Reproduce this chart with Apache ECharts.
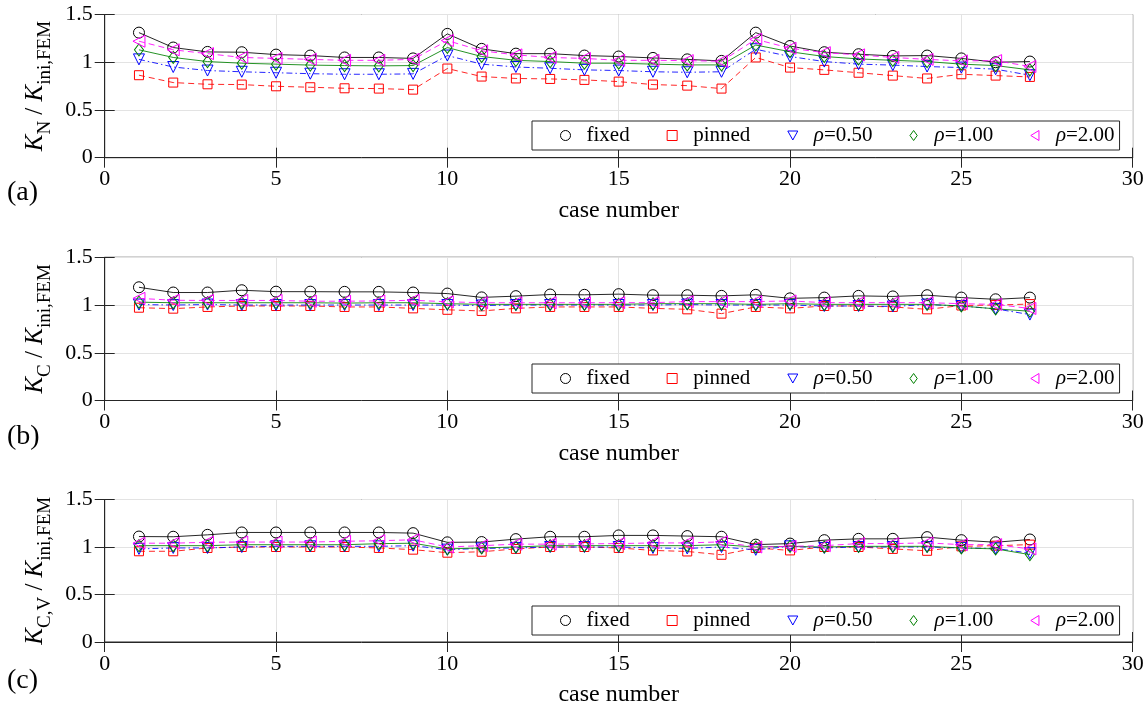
<!DOCTYPE html>
<html>
<head>
<meta charset="utf-8">
<script src="https://cdn.jsdelivr.net/npm/echarts@6/dist/echarts.min.js"></script>
<style>
html,body{margin:0;padding:0;background:#fff;}
#chart{width:1148px;height:708px;}
</style>
</head>
<body>
<div id="chart"></div>
<script>
// ---------------- DATA ----------------
const cases = [1,2,3,4,5,6,7,8,9,10,11,12,13,14,15,16,17,18,19,20,21,22,23,24,25,26,27];
const xTicks = [0,5,10,15,20,25,30];
const yTicks = [0,0.5,1,1.5];
const seriesNames = ['fixed','pinned','ρ=0.50','ρ=1.00','ρ=2.00'];
const panelTags = ['(a)','(b)','(c)'];

// panel (a): K_N / K_ini,FEM
const aFixed  = [1.31,1.154,1.108,1.105,1.08,1.07,1.05,1.05,1.04,1.297,1.14,1.09,1.09,1.07,1.06,1.045,1.03,1.014,1.31,1.17,1.105,1.084,1.066,1.07,1.04,1.0,1.007];
const aPinned = [0.864,0.787,0.769,0.766,0.748,0.738,0.727,0.724,0.713,0.934,0.85,0.83,0.825,0.815,0.797,0.766,0.755,0.724,1.05,0.944,0.92,0.89,0.86,0.83,0.874,0.86,0.846];
const aRho05  = [1.03,0.95,0.913,0.90,0.89,0.88,0.874,0.874,0.878,1.07,0.98,0.95,0.937,0.92,0.913,0.90,0.895,0.90,1.136,1.06,1.007,0.98,0.97,0.955,0.944,0.927,0.864];
const aRho10  = [1.13,1.05,1.007,0.99,0.98,0.97,0.965,0.962,0.965,1.154,1.06,1.02,1.007,0.99,0.99,0.98,0.972,0.972,1.18,1.11,1.06,1.035,1.02,1.007,0.98,0.965,0.92];
const aRho20  = [1.22,1.13,1.09,1.05,1.04,1.03,1.02,1.02,1.03,1.227,1.12,1.077,1.05,1.04,1.02,1.02,1.017,1.01,1.24,1.147,1.10,1.077,1.05,1.03,1.014,1.017,0.955];

// panel (b): K_C / K_ini,FEM
const bFixed  = [1.186,1.131,1.131,1.155,1.14,1.14,1.138,1.138,1.131,1.12,1.08,1.093,1.11,1.107,1.114,1.103,1.103,1.096,1.107,1.07,1.078,1.096,1.09,1.103,1.078,1.06,1.078];
const bPinned = [0.972,0.962,0.98,0.99,0.99,0.99,0.98,0.98,0.965,0.95,0.938,0.965,0.98,0.98,0.98,0.965,0.955,0.91,0.98,0.965,0.99,0.99,0.98,0.955,0.995,1.0,1.01];
const bRho05  = [1.005,1.0,1.005,1.0,1.0,1.0,1.0,1.0,1.0,1.0,0.995,1.0,1.0,1.0,1.0,1.0,1.005,1.0,1.0,1.0,0.99,0.99,0.985,1.005,0.99,0.96,0.9];
const bRho10  = [1.03,1.024,1.024,1.024,1.024,1.024,1.02,1.024,1.024,1.014,1.007,1.007,1.007,1.007,1.007,1.014,1.014,1.014,1.007,1.014,1.007,1.007,1.007,1.007,0.99,0.96,0.935];
const bRho20  = [1.07,1.05,1.048,1.048,1.048,1.04,1.04,1.043,1.05,1.034,1.024,1.024,1.024,1.024,1.025,1.025,1.036,1.036,1.036,1.043,1.025,1.025,1.025,1.025,1.014,1.007,0.964];

// panel (c): K_C,V / K_ini,FEM
const cFixed  = [1.11,1.108,1.128,1.153,1.153,1.153,1.153,1.153,1.146,1.049,1.052,1.083,1.108,1.108,1.122,1.122,1.115,1.108,1.025,1.036,1.072,1.086,1.086,1.104,1.072,1.05,1.079];
const cPinned = [0.955,0.955,0.99,1.0,1.0,1.0,1.0,0.99,0.972,0.94,0.95,0.98,1.0,1.0,0.99,0.964,0.953,0.918,0.99,0.964,1.0,1.0,0.98,0.96,1.007,1.014,1.025];
const cRho05  = [0.98,0.99,0.99,1.0,1.007,1.007,1.007,1.007,1.014,0.972,0.985,0.99,1.0,1.0,1.0,0.99,0.985,1.0,0.97,1.007,0.99,1.0,1.0,1.0,0.99,0.985,0.935];
const cRho10  = [1.014,1.014,1.014,1.024,1.024,1.024,1.024,1.035,1.04,0.98,0.99,1.0,1.014,1.014,1.014,1.014,1.014,1.024,1.0,1.007,1.0,1.007,1.007,1.007,0.99,0.98,0.92];
const cRho20  = [1.04,1.04,1.05,1.052,1.052,1.052,1.06,1.066,1.076,1.0,1.014,1.03,1.03,1.033,1.036,1.043,1.043,1.054,1.0,1.007,1.014,1.036,1.036,1.043,1.025,1.025,0.98];

// ---------------- STYLE / LAYOUT ----------------
const FONT = "'Liberation Serif','Times New Roman',serif";
const INK = '#262626';
const panelData = [
  [aFixed,aPinned,aRho05,aRho10,aRho20],
  [bFixed,bPinned,bRho05,bRho10,bRho20],
  [cFixed,cPinned,cRho05,cRho10,cRho20]
];
const yNames = [
  '{k|K}{s|N}{t| / }{k|K}{s|ini,FEM}',
  '{k|K}{s|C}{t| / }{k|K}{s|ini,FEM}',
  '{k|K}{s|C,V}{t| / }{k|K}{s|ini,FEM}'
];
const gridTops = [14.5, 257.3, 499.5];
const gridH = 143.2;
const gridLeft = 104.7, gridW = 1028;
const legendTops = [121, 364, 606];
const tagY = [192, 436, 680];

const styles = [
  {color:'#000000', symbol:'circle', size:11, rotate:0, dash:'solid', icon:'circle'},
  {color:'#ff0000', symbol:'rect', size:9, rotate:0, dash:[6,4], icon:'path://M0,0L9,0L9,9L0,9Z'},
  {color:'#0000ff', symbol:'triangle', size:11, rotate:180, dash:[6,3,1.5,3], icon:'path://M0,0L10,0L5,9Z'},
  {color:'#008000', symbol:'diamond', size:[9,12], rotate:0, dash:'solid', icon:'path://M4,0L8,5.5L4,11L0,5.5Z'},
  {color:'#ff00ff', symbol:'triangle', size:12, rotate:90, dash:[6,4], icon:'path://M9,0L9,11L0,5.5Z'}
];

const grids = [], xAxes = [], yAxes = [], series = [], legends = [], graphics = [];
const richName = {
  k:{fontFamily:FONT, fontStyle:'italic', fontSize:25, lineHeight:31, verticalAlign:'top', color:'#000'},
  t:{fontFamily:FONT, fontSize:25, lineHeight:31, verticalAlign:'top', color:'#000'},
  s:{fontFamily:FONT, fontSize:19, lineHeight:19, verticalAlign:'bottom', color:'#000'}
};

for (let p = 0; p < 3; p++) {
  grids.push({left:gridLeft, top:gridTops[p], width:gridW, height:gridH, show:true,
    borderColor:INK, borderWidth:1, backgroundColor:'#fff'});
  const axisFont = {fontFamily:FONT, fontSize:22, color:'#000'};
  xAxes.push({type:'value', gridIndex:p, min:xTicks[0], max:xTicks[xTicks.length-1], interval:5,
    position:'bottom',
    axisLine:{show:true, lineStyle:{color:INK, width:1}},
    axisTick:{show:true, inside:true, length:10, lineStyle:{color:INK}},
    axisLabel:Object.assign({margin:11}, axisFont),
    splitLine:{show:true, lineStyle:{color:'#e3e3e3', width:1}},
    name:'case number', nameLocation:'middle', nameGap:41,
    nameTextStyle:{fontFamily:FONT, fontSize:24, color:'#000'}
  });
  xAxes.push({type:'value', gridIndex:p, min:xTicks[0], max:xTicks[xTicks.length-1], interval:5,
    position:'top',
    axisLine:{show:false}, axisLabel:{show:false}, splitLine:{show:false},
    axisTick:{show:true, inside:true, length:10, lineStyle:{color:INK}}
  });
  yAxes.push({type:'value', gridIndex:p, min:yTicks[0], max:yTicks[yTicks.length-1], interval:0.5,
    position:'left',
    axisLine:{show:true, lineStyle:{color:INK, width:1}},
    axisTick:{show:true, inside:true, length:10, lineStyle:{color:INK}},
    axisLabel:Object.assign({margin:12}, axisFont),
    splitLine:{show:true, lineStyle:{color:'#e3e3e3', width:1}},
    name:yNames[p], nameLocation:'middle', nameRotate:90, nameGap:48,
    nameTextStyle:{rich:richName}
  });
  yAxes.push({type:'value', gridIndex:p, min:yTicks[0], max:yTicks[yTicks.length-1], interval:0.5,
    position:'right',
    axisLine:{show:false}, axisLabel:{show:false}, splitLine:{show:false},
    axisTick:{show:true, inside:true, length:10, lineStyle:{color:INK}}
  });

  for (let s = 0; s < 5; s++) {
    const st = styles[s];
    series.push({
      type:'line', name:seriesNames[s], xAxisIndex:2*p, yAxisIndex:2*p,
      data:cases.map((c,i)=>[c, panelData[p][s][i]]),
      symbol:st.symbol, symbolSize:st.size, symbolRotate:st.rotate, showSymbol:true,
      lineStyle:{color:st.color, width:1, type:st.dash, opacity:0.85},
      itemStyle:{color:'rgba(255,255,255,0)', borderColor:st.color, borderWidth:1},
      emphasis:{disabled:true}, animation:false, z:2+s
    });
  }

  legends.push({
    left:532, top:legendTops[p], orient:'horizontal',
    padding:[3,5,3,28], itemGap:37, itemWidth:10, itemHeight:10,
    backgroundColor:'#fff', borderColor:INK, borderWidth:1,
    selectedMode:false,
    textStyle:{fontFamily:FONT, fontSize:21, color:'#000', lineHeight:23,
      rich:{
        n:{fontFamily:FONT, fontSize:21, color:'#000', padding:[0,0,0,11]},
        i:{fontFamily:FONT, fontStyle:'italic', fontSize:21, color:'#000', padding:[0,0,0,11]},
        r:{fontFamily:FONT, fontSize:21, color:'#000'}}},
    formatter:function(name){
      if (name.charAt(0) === 'ρ') return '{i|ρ}{r|' + name.slice(1) + '}';
      return '{n|' + name + '}';
    },
    data:seriesNames.map((n,s)=>({name:n, icon:styles[s].icon,
      itemStyle:{color:'rgba(255,255,255,0)', borderColor:styles[s].color, borderWidth:1}}))
  });

  graphics.push({type:'text', left:7, top:tagY[p]-13,
    style:{text:panelTags[p], fontFamily:FONT, fontSize:28, fill:'#000'}});
}

const chart = echarts.init(document.getElementById('chart'), null, {renderer:'canvas'});
chart.setOption({
  backgroundColor:'#fff',
  animation:false,
  grid:grids, xAxis:xAxes, yAxis:yAxes, series:series, legend:legends,
  graphic:graphics
});
</script>
</body>
</html>
